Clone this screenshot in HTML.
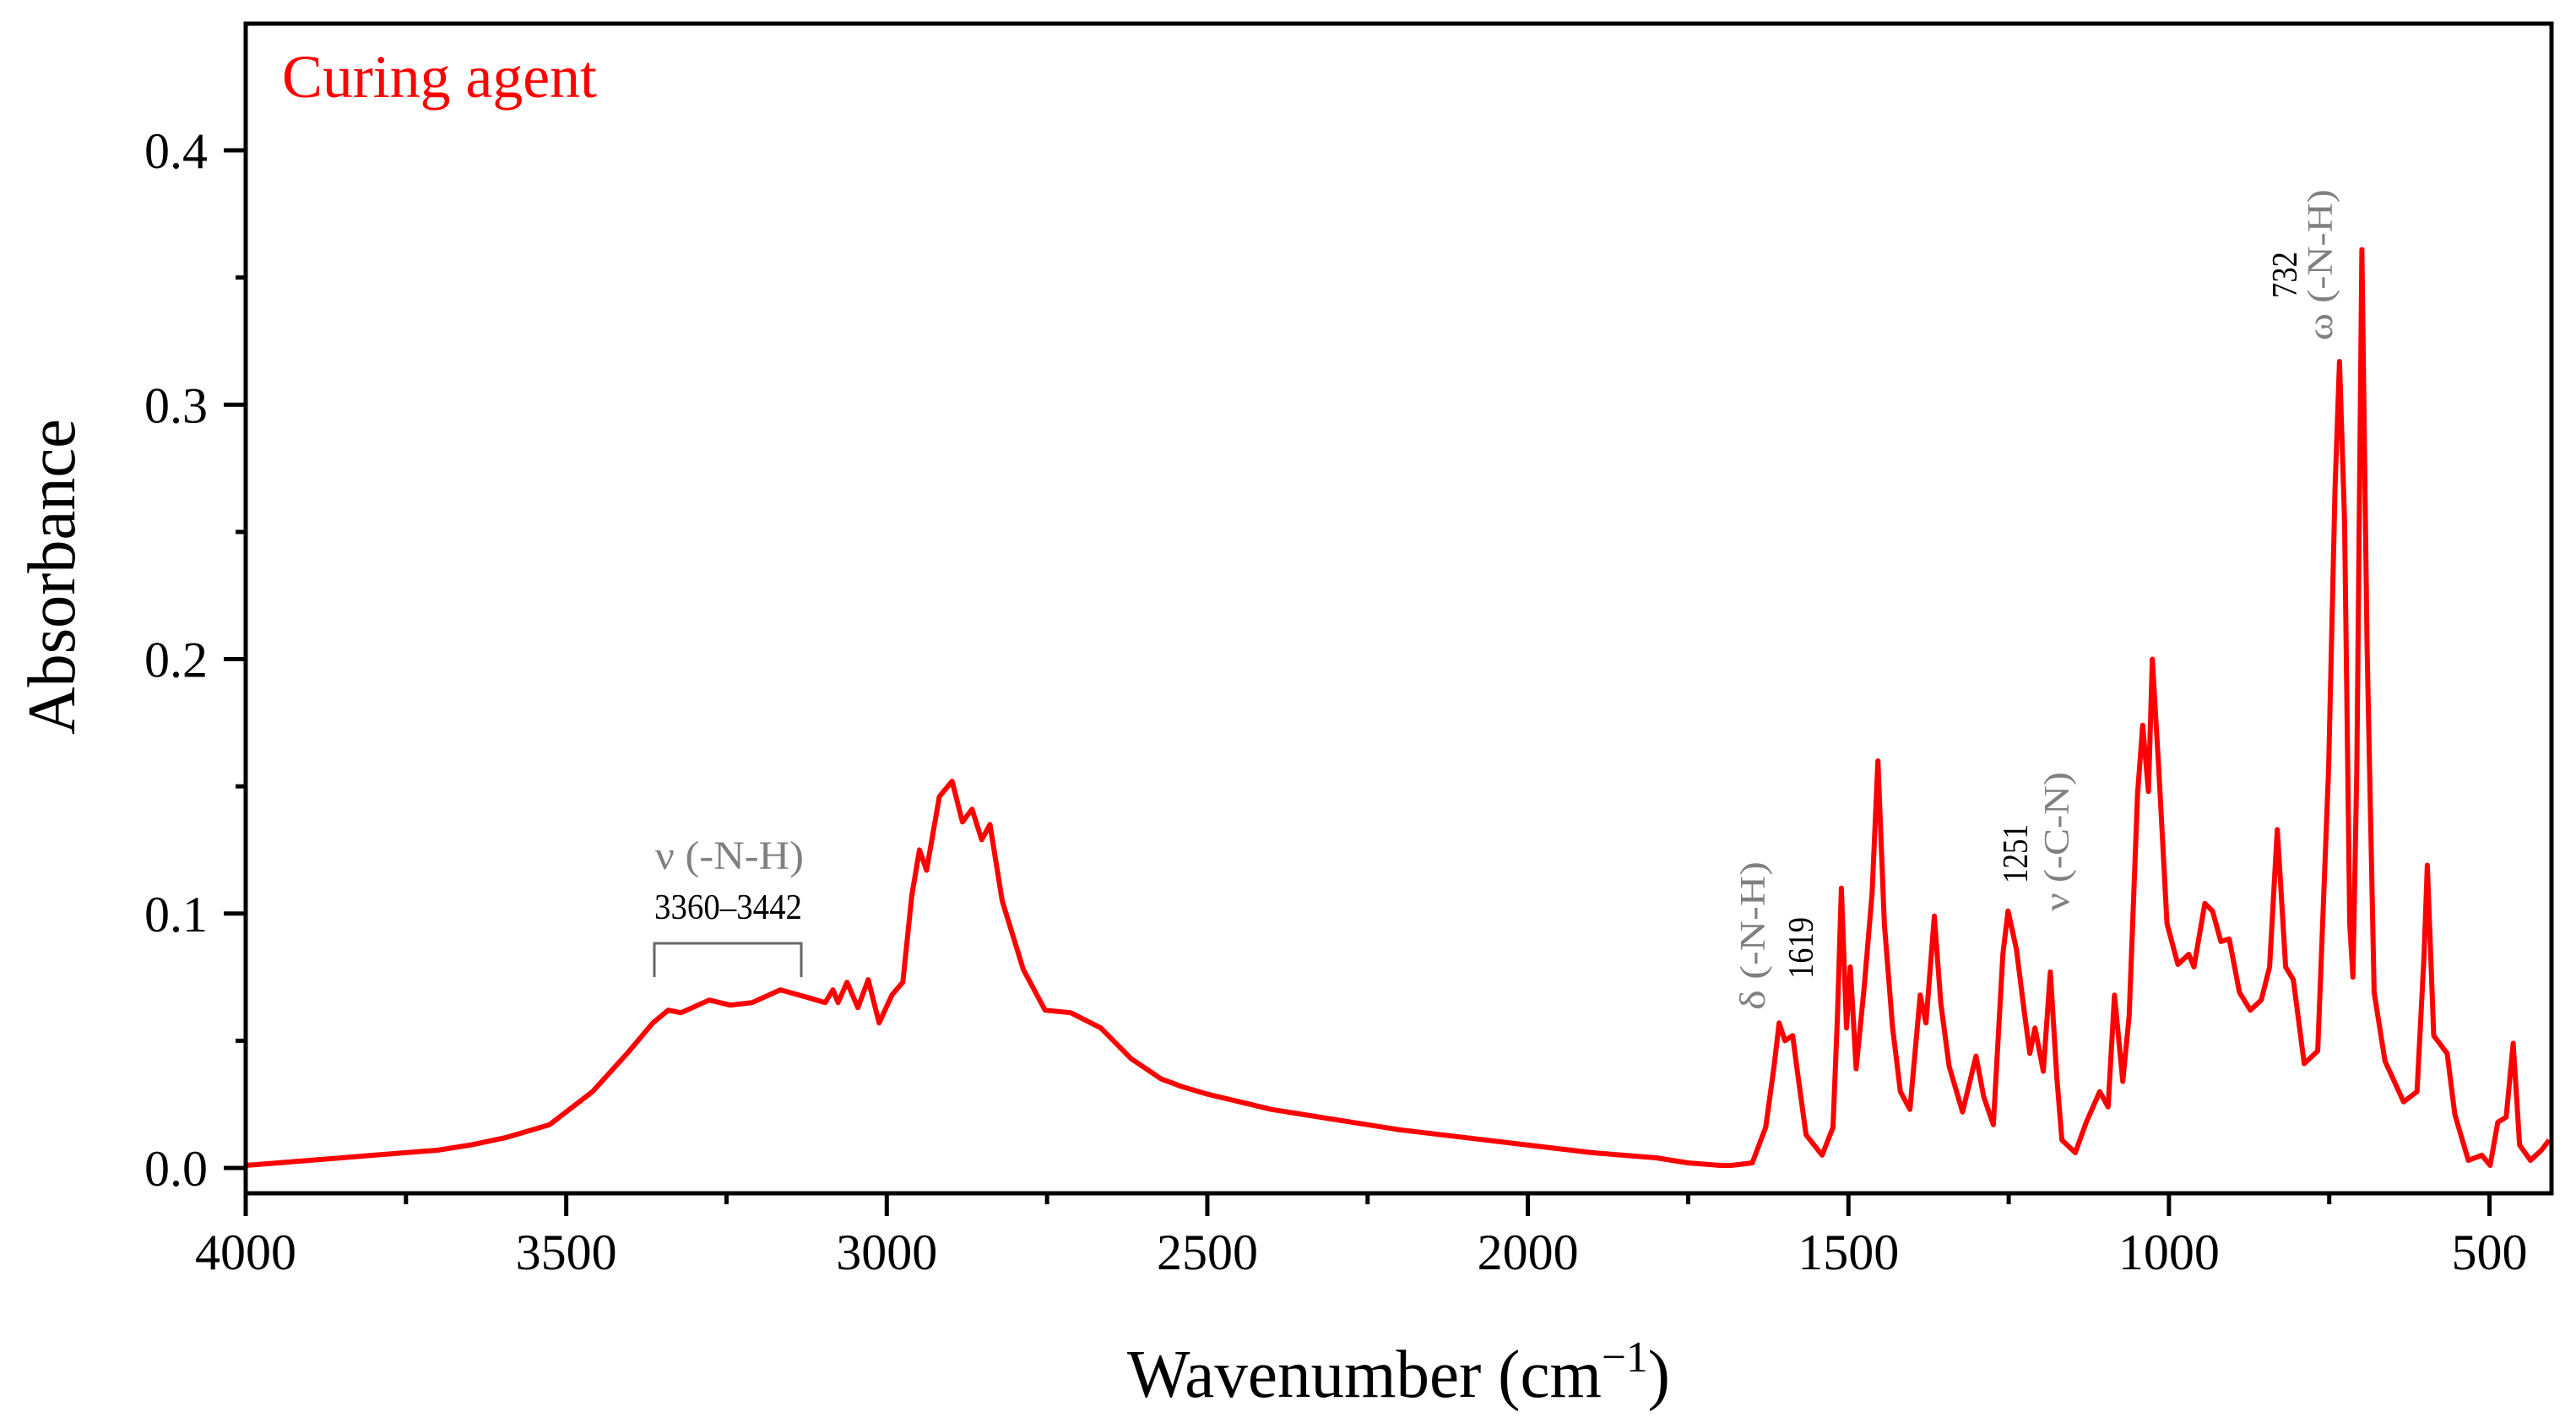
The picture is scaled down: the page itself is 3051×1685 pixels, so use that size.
<!DOCTYPE html>
<html><head><meta charset="utf-8"><style>
html,body{margin:0;padding:0;background:#fff;}
svg{display:block;font-family:"Liberation Serif",serif;}
</style></head><body>
<svg id="chart" width="3051" height="1685" viewBox="0 0 3051 1685" xmlns="http://www.w3.org/2000/svg">
<g id="grid"></g>
<path id="spectrum" fill="none" stroke="#ff0000" stroke-width="6" stroke-linejoin="round"/>
<rect x="291" y="28" width="2731" height="1385" fill="none" stroke="#000" stroke-width="5"/>
<g id="axes"></g>
<text x="334" y="115" font-size="72" fill="#ff0000" textLength="373" lengthAdjust="spacingAndGlyphs">Curing agent</text>
<text x="1335" y="1654" font-size="80" fill="#000" textLength="643" lengthAdjust="spacingAndGlyphs">Wavenumber (cm<tspan dy="-30" font-size="52">−1</tspan><tspan dy="30">)</tspan></text>
<text transform="translate(88,870) rotate(-90)" font-size="80" fill="#000" textLength="374" lengthAdjust="spacingAndGlyphs">Absorbance</text>
<text x="776" y="1029" font-size="48" fill="#808080" textLength="176" lengthAdjust="spacingAndGlyphs">ν (-N-H)</text>
<text x="775" y="1088" font-size="42" fill="#000" textLength="175" lengthAdjust="spacingAndGlyphs">3360–3442</text>
<path d="M775,1157 V1117 H949 V1157" fill="none" stroke="#666" stroke-width="3"/>
<text transform="translate(2090,1196) rotate(-90)" font-size="42" fill="#808080" textLength="176" lengthAdjust="spacingAndGlyphs">δ (-N-H)</text>
<text transform="translate(2147,1159) rotate(-90)" font-size="42" fill="#000" textLength="73" lengthAdjust="spacingAndGlyphs">1619</text>
<text transform="translate(2401,1046) rotate(-90)" font-size="42" fill="#000" textLength="70" lengthAdjust="spacingAndGlyphs">1251</text>
<text transform="translate(2450,1079) rotate(-90)" font-size="42" fill="#808080" textLength="165" lengthAdjust="spacingAndGlyphs">ν (-C-N)</text>
<text transform="translate(2720,353) rotate(-90)" font-size="42" fill="#000" textLength="55" lengthAdjust="spacingAndGlyphs">732</text>
<text transform="translate(2762,403) rotate(-90)" font-size="42" fill="#808080" textLength="179" lengthAdjust="spacingAndGlyphs">ω (-N-H)</text>
</svg>
<script>
const wavenumbers = [4000,3900,3800,3700,3650,3593,3526,3459,3405,3365,3341,3321,3277,3244,3210,3166,3123,3096,3084,3076,3062,3045,3029,3012,2992,2975,2961,2949,2938,2918,2898,2882,2867,2852,2839,2820,2787,2753,2713,2666,2619,2572,2540,2500,2400,2300,2200,2100,2000,1900,1800,1750,1700,1683,1650,1629,1616,1608,1599,1587,1578,1566,1541,1524,1517,1511,1503,1497,1488,1475,1463,1454,1444,1431,1419,1404,1388,1379,1366,1356,1343,1322,1301,1289,1274,1259,1251,1238,1226,1217,1209,1196,1185,1175,1167,1146,1129,1108,1095,1085,1072,1062,1049,1041,1032,1026,1016,1003,986,969,961,944,932,919,906,890,873,856,843,831,818,806,789,768,751,741,734,726,718,713,707,699,691,680,663,634,613,602,597,587,566,554,533,512,499,487,474,463,453,436,419,407];
const absorbance = [0.001,0.003,0.005,0.007,0.009,0.012,0.017,0.030,0.045,0.057,0.062,0.061,0.066,0.064,0.065,0.070,0.067,0.065,0.070,0.065,0.073,0.063,0.074,0.057,0.068,0.073,0.107,0.125,0.117,0.146,0.152,0.136,0.141,0.129,0.135,0.105,0.078,0.062,0.061,0.055,0.043,0.035,0.032,0.029,0.023,0.019,0.015,0.012,0.009,0.006,0.004,0.002,0.001,0.001,0.002,0.016,0.040,0.057,0.050,0.052,0.035,0.013,0.005,0.016,0.060,0.110,0.055,0.079,0.039,0.072,0.108,0.160,0.096,0.055,0.030,0.023,0.068,0.057,0.099,0.065,0.040,0.022,0.044,0.028,0.017,0.084,0.101,0.086,0.062,0.045,0.055,0.038,0.077,0.036,0.011,0.006,0.018,0.030,0.024,0.068,0.034,0.060,0.147,0.174,0.148,0.200,0.157,0.096,0.080,0.084,0.079,0.104,0.101,0.089,0.090,0.069,0.062,0.066,0.079,0.133,0.079,0.074,0.041,0.046,0.157,0.267,0.317,0.254,0.096,0.075,0.157,0.361,0.206,0.069,0.042,0.026,0.030,0.084,0.119,0.052,0.045,0.021,0.003,0.005,0.001,0.018,0.020,0.049,0.009,0.003,0.007,0.011];
const xTicks = [4000,3500,3000,2500,2000,1500,1000,500];
const xTickLabels = ["4000","3500","3000","2500","2000","1500","1000","500"];
const yTicks = [0.0,0.1,0.2,0.3,0.4];
const yTickLabels = ["0.0","0.1","0.2","0.3","0.4"];

const X0=291, Y0=1383;
function xs(w){ return X0 + (4000 - w) * 0.7593; }
function ys(a){ return Y0 - a * 3012.5; }
const NS="http://www.w3.org/2000/svg";
let d="";
for(let i=0;i<wavenumbers.length;i++){ d += (i?"L":"M") + xs(wavenumbers[i]).toFixed(1) + "," + ys(absorbance[i]).toFixed(1); }
document.getElementById("spectrum").setAttribute("d", d);
const axes=document.getElementById("axes");
function line(x1,y1,x2,y2,name){
  const l=document.createElementNS(NS,"line");
  l.setAttribute("x1",x1);l.setAttribute("y1",y1);l.setAttribute("x2",x2);l.setAttribute("y2",y2);
  l.setAttribute("stroke","#000");l.setAttribute("stroke-width","5");
  
  
  axes.appendChild(l);
}
function txt(x,y,s,anchor,name){
  const t=document.createElementNS(NS,"text");
  t.setAttribute("x",x);t.setAttribute("y",y);t.setAttribute("font-size","60");t.setAttribute("text-anchor",anchor);
  t.textContent=s;
  
  
  axes.appendChild(t);
}
xTicks.forEach((w,i)=>{
  const x=xs(w);
  line(x,1413,x,1440,"x-tick");
  txt(x,1503,xTickLabels[i],"middle","x-tick-label");
  const m=w-250;
  if(m>=403) line(xs(m),1413,xs(m),1426,"x-minor-tick");
});
yTicks.forEach((v,i)=>{
  const y=ys(v);
  line(265,y,291,y,"y-tick");
  txt(246,y+21,yTickLabels[i],"end","y-tick-label");
  const m=v+0.05;
  if(ys(m)>28) line(279,ys(m),291,ys(m),"y-minor-tick");
});
</script>
</body></html>
